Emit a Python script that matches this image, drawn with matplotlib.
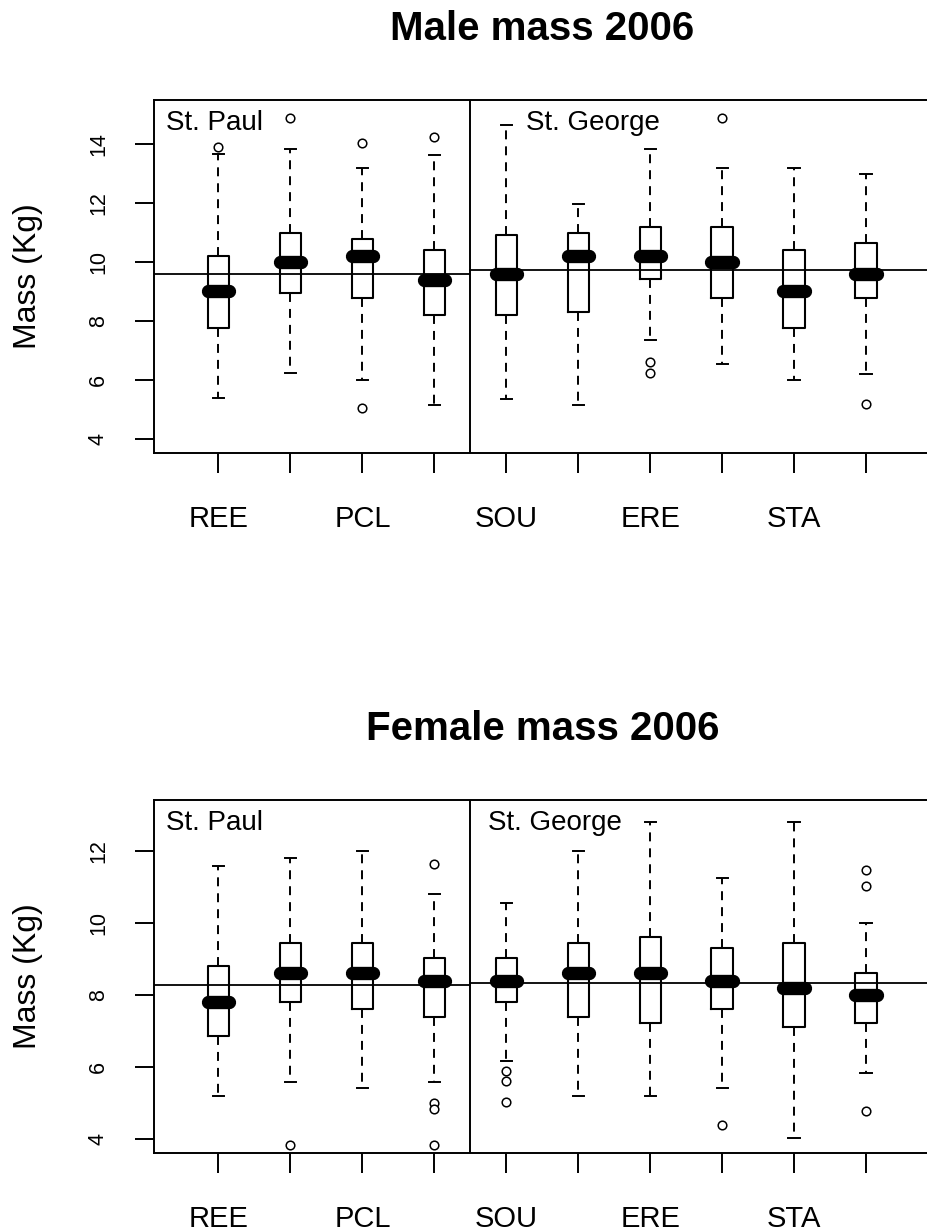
import matplotlib
matplotlib.use("Agg")
import matplotlib.pyplot as plt
import matplotlib.transforms as mtransforms

plt.rcParams['font.family'] = ['Liberation Sans', 'DejaVu Sans']

# rookeries, only every other name is printed under the axis
shown_labels = ["REE", "PCL", "SOU", "ERE", "STA"]
positions = [1, 2, 3, 4, 5, 6, 7, 8, 9, 10]

# male 2006 (kg)
male_med = [9.0, 10.0, 10.2, 9.4, 9.6, 10.2, 10.2, 10.0, 9.0, 9.6]
male_q1 = [7.77, 8.94, 8.77, 8.2, 8.2, 8.29, 9.41, 8.77, 7.77, 8.77]
male_q3 = [10.21, 10.99, 10.78, 10.41, 10.92, 10.97, 11.2, 11.2, 10.41, 10.63]
male_lo = [5.38, 6.23, 6.0, 5.16, 5.36, 5.15, 7.37, 6.56, 6.0, 6.2]
male_hi = [13.66, 13.83, 13.19, 13.63, 14.64, 11.97, 13.83, 13.19, 13.19, 12.97]
male_out = [[13.91], [14.87], [14.02, 5.04], [14.23], [], [], [6.62, 6.23], [14.87], [], [5.19]]
male_island_mean = [9.58, 9.72]

# female 2006 (kg)
fem_med = [7.8, 8.6, 8.6, 8.4, 8.4, 8.6, 8.6, 8.4, 8.2, 8.0]
fem_q1 = [6.86, 7.8, 7.62, 7.4, 7.81, 7.38, 7.21, 7.62, 7.1, 7.21]
fem_q3 = [8.81, 9.44, 9.44, 9.02, 9.02, 9.44, 9.62, 9.32, 9.44, 8.62]
fem_lo = [5.19, 5.58, 5.43, 5.58, 6.18, 5.19, 5.19, 5.43, 4.02, 5.82]
fem_hi = [11.58, 11.81, 12.0, 10.81, 10.57, 12.0, 12.81, 11.24, 12.81, 10.01]
fem_out = [[], [3.82], [], [11.63, 5.01, 4.82, 3.82], [5.9, 5.6, 5.04], [], [], [4.39], [], [11.47, 11.04, 4.79]]
fem_island_mean = [8.28, 8.34]

islands = ["St. Paul", "St. George"]
split = 4.5


def make_stats(med, q1, q3, lo, hi, out):
    stats = []
    for i in range(len(med)):
        stats.append(dict(med=med[i], q1=q1[i], q3=q3[i], whislo=lo[i],
                          whishi=hi[i], fliers=out[i]))
    return stats


def panel(ax, stats, means, title, ylim, yticks, george_x):
    ax.bxp(stats, positions=positions, widths=0.3, capwidths=0.16,
           showfliers=True,
           boxprops=dict(color='black', linewidth=1.5),
           whiskerprops=dict(color='black', linewidth=1.4, linestyle=(0, (4.6, 3.6))),
           capprops=dict(color='black', linewidth=1.4),
           medianprops=dict(color='black', linewidth=9.6, solid_capstyle='round'),
           flierprops=dict(marker='o', markersize=6.2, markerfacecolor='white',
                           markeredgecolor='black', markeredgewidth=1.1))
    ax.set_xlim(0.1, 10.9)
    ax.set_ylim(*ylim)

    # island means and divider
    ax.plot([0.1, split], [means[0], means[0]], color='black', lw=1.3, zorder=1.5)
    ax.plot([split, 10.9], [means[1], means[1]], color='black', lw=1.3, zorder=1.5)
    ax.axvline(split, color='black', lw=1.4)

    tr = mtransforms.blended_transform_factory(ax.transData, ax.transAxes)
    ax.text(0.27, 0.972, islands[0], transform=tr, ha='left', va='top', fontsize=20)
    ax.text(george_x, 0.972, islands[1], transform=tr, ha='left', va='top', fontsize=20)

    full = []
    for i in range(len(positions)):
        full.append(shown_labels[i // 2] if i % 2 == 0 else "")
    ax.set_xticks(positions, full)
    ax.set_yticks(yticks)
    ax.set_yticklabels([str(t) for t in yticks], rotation=90, va='center')
    ax.tick_params(axis='x', length=14.4, width=1.4, pad=23, labelsize=21)
    ax.tick_params(axis='y', length=13.7, width=1.4, pad=18.5, labelsize=15.5)
    for s in ax.spines.values():
        s.set_linewidth(1.4)
    ax.set_title(title, fontsize=29, fontweight='bold', pad=43)
    ax.set_ylabel("Mass (Kg)", fontsize=23)
    ax.yaxis.set_label_coords(-0.142, 0.5)


fig = plt.figure(figsize=(9.27, 12.32), dpi=100)
ax1 = fig.add_axes([0.1658, 0.6321, 0.8385, 0.2868])
ax2 = fig.add_axes([0.1658, 0.0644, 0.8385, 0.2863])

panel(ax1, make_stats(male_med, male_q1, male_q3, male_lo, male_hi, male_out),
      male_island_mean, "Male mass 2006", (3.52, 15.49), [4, 6, 8, 10, 12, 14], 5.27)
panel(ax2, make_stats(fem_med, fem_q1, fem_q3, fem_lo, fem_hi, fem_out),
      fem_island_mean, "Female mass 2006", (3.62, 13.42), [4, 6, 8, 10, 12], 4.74)

fig.savefig("out.png", dpi=100)
